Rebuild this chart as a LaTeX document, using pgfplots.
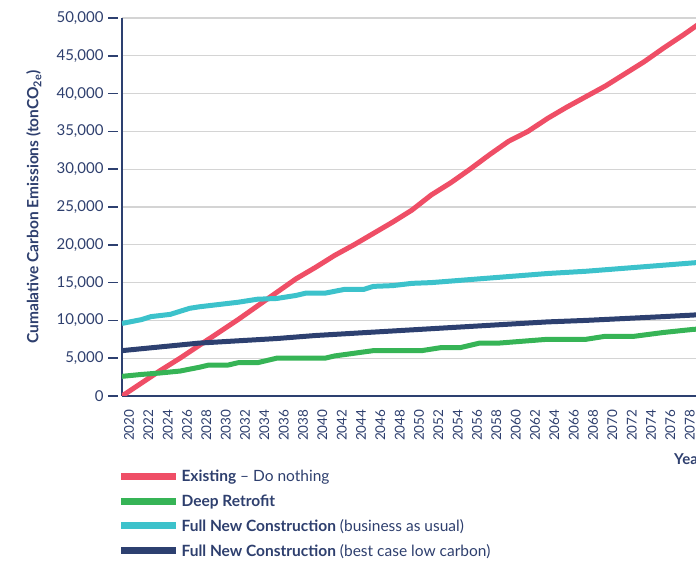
\documentclass[border=0pt]{standalone}
\usepackage{pgfplots}
\pgfplotsset{compat=1.18}
\usepackage{fontspec}
\setmainfont{Lato}
\definecolor{cred}{HTML}{EF4E66}
\definecolor{cgreen}{HTML}{36B456}
\definecolor{ccyan}{HTML}{3CC2CB}
\definecolor{cnavy}{HTML}{2D4070}
\definecolor{ctext}{HTML}{2E3F6E}
\definecolor{cgrid}{HTML}{D4D4D4}
\begin{document}
\begin{tikzpicture}
\begin{axis}[
  scale only axis,
  width=580pt, height=378pt,
  at={(122pt,166pt)}, anchor=south west,
  xmin=2020, xmax=2080, ymin=0, ymax=50000,
  axis x line*=bottom, axis y line*=left,
  axis line style={cnavy, line width=2pt},
  xtick={2020,2022,...,2078},
  ytick={0,5000,...,50000},
  scaled y ticks=false,
  ymajorgrids, grid style={cgrid, line width=1.3pt},
  /pgf/number format/assume math mode=true,
  xticklabel style={/pgf/number format/1000 sep=, rotate=90, anchor=east, font=\fontsize{13.5}{16}\selectfont, text=ctext, yshift=-7pt},
  yticklabel style={/pgf/number format/1000 sep={,}, font=\fontsize{15}{17}\selectfont, text=ctext, xshift=-5pt},
  x tick style={draw=none},
  y tick style={cnavy, line width=1.6pt, xshift=-4pt},
  tick align=outside, major tick length=10pt,
  ylabel={Cumalative Carbon Emissions (tonCO\textsubscript{2e})},
  ylabel style={at={(axis description cs:-0.152,0.5)}, anchor=center, font=\bfseries\fontsize{15.5}{17}\selectfont, text=ctext},
  xlabel={Year},
  xlabel style={at={(axis description cs:0.946,-0.168)}, anchor=west, font=\bfseries\fontsize{15}{17}\selectfont, text=ctext},
  legend style={at={(axis description cs:-0.008,-0.19)}, anchor=north west, draw=none, fill=none, font=\fontsize{15.5}{17}\selectfont, text=ctext, row sep=7.5pt, inner sep=0pt, nodes={inner sep=2pt}},
  legend cell align=left,
  legend image code/.code={\draw[#1, line width=7pt, line cap=butt] (0pt,0pt) -- (55pt,0pt);},
  every axis plot/.append style={line width=5pt, line join=round},
  clip=true,
]
\addplot[cred] coordinates {
(2020,0) (2022,1700) (2024,3400) (2026,5000) (2028,6700) (2030,8400) (2032,10100)
(2034,11900) (2036,13700) (2038,15500) (2040,17000) (2042,18600) (2044,20000)
(2046,21500) (2048,23000) (2050,24600) (2052,26600) (2054,28200) (2056,30000)
(2058,31900) (2060,33700) (2062,35000) (2064,36700) (2066,38200) (2068,39600)
(2070,41000) (2072,42600) (2074,44200) (2076,46000) (2078,47700) (2079,48600)
(2080,49500)
};
\addlegendentry{\textbf{Existing} -- Do nothing}
\addplot[cgreen] coordinates {
(2020,2600) (2022,2850) (2024,3050) (2026,3300) (2028,3800) (2029,4100) (2031,4100)
(2032,4400) (2034,4400) (2036,5000) (2041,5000) (2042,5300) (2046,6000) (2051,6000)
(2053,6400) (2055,6400) (2057,7000) (2059,7000) (2061,7200) (2064,7500) (2068,7500)
(2070,7900) (2073,7900) (2076,8400) (2079,8800) (2080,8900)
};
\addlegendentry{\textbf{Deep Retrofit}}
\addplot[ccyan] coordinates {
(2020,9600) (2022,10100) (2023,10500) (2025,10800) (2027,11600) (2028,11800) (2030,12100)
(2032,12400) (2034,12800) (2036,12900) (2038,13300) (2039,13600) (2041,13600) (2043,14100)
(2045,14100) (2046,14500) (2048,14600) (2050,14900) (2052,15000) (2056,15400) (2060,15800)
(2064,16200) (2068,16500) (2072,16900) (2076,17300) (2079,17600) (2080,17700)
};
\addlegendentry{\textbf{Full New Construction} (business as usual)}
\addplot[cnavy] coordinates {
(2020,6000) (2024,6500) (2028,7000) (2032,7300) (2036,7600) (2040,8000) (2044,8300)
(2048,8600) (2052,8900) (2056,9200) (2060,9500) (2064,9800) (2068,10000) (2072,10250)
(2076,10500) (2079,10700) (2080,10780)
};
\addlegendentry{\textbf{Full New Construction} (best case low carbon)}
\end{axis}
\pgfresetboundingbox
\useasboundingbox (0pt,0pt) rectangle (696pt,562pt);
\end{tikzpicture}
\end{document}
